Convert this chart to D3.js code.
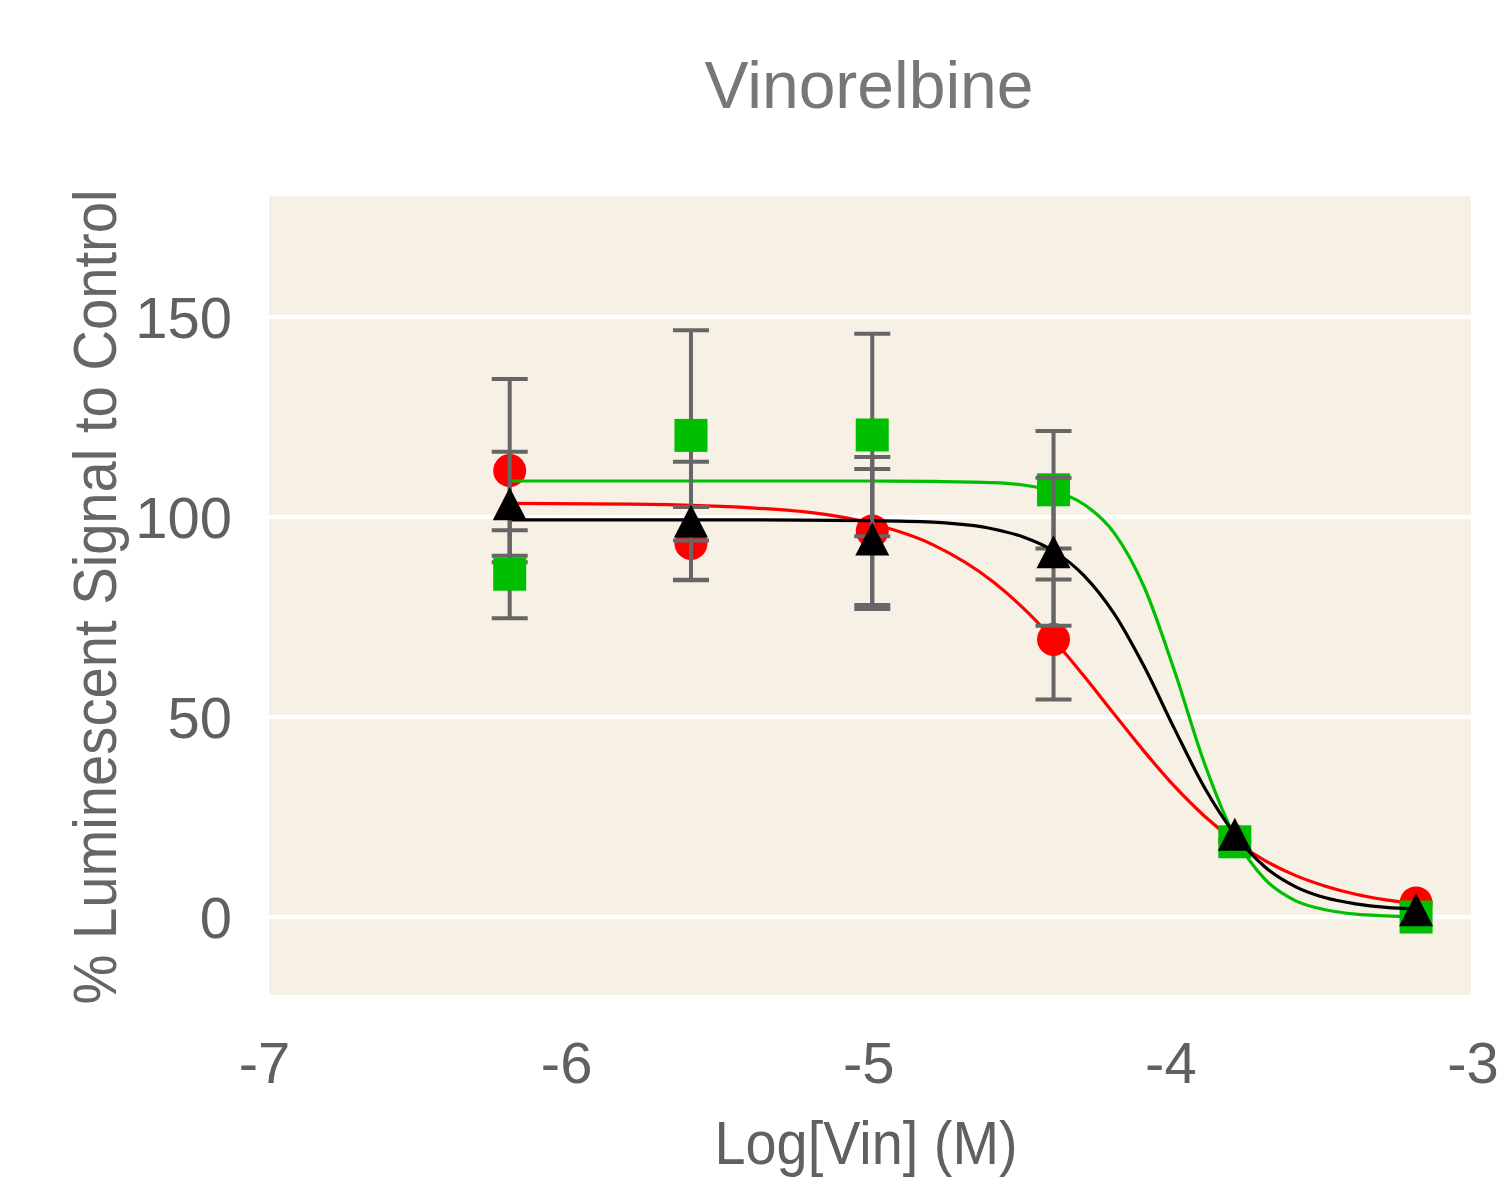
<!DOCTYPE html>
<html lang="en">
  <head>
    <meta charset="UTF-8" />
    <title>Vinorelbine</title>
    <script src="https://d3js.org/d3.v7.min.js"></script>
    <style>
      body {
        margin: 0px;
        overflow: hidden;
        background: #ffffff;
      }
      text {
        font-family: "Liberation Sans", Arial, sans-serif;
      }
    </style>
  </head>
  <body>
    <svg width="1508" height="1180"></svg>
    <script>
      // measured points (log molar concentration)
      var doses = [-6.2, -5.6, -5.0, -4.4, -3.8, -3.2];
      var redMean = [111.6, 93.4, 96.5, 69.4, 19.0, 3.5];
      var redErr = [22.9, 9.1, 18.5, 15.0, 0, 0];
      var greenMean = [85.7, 120.4, 120.5, 106.8, 18.8, 0.0];
      var greenErr = [11.0, 26.3, 25.3, 14.7, 0, 0];
      var blackMean = [103.3, 99.0, 94.5, 91.3, 20.7, 1.8];
      var blackErr = [13.0, 14.8, 17.5, 18.5, 0, 0];

      // fitted curves
      var curveX = [-6.2, -5.8, -5.4, -5.0, -4.8, -4.6, -4.5, -4.4, -4.3, -4.2,
                    -4.1, -4.0, -3.9, -3.8, -3.7, -3.6, -3.5, -3.4, -3.3, -3.2];
      var redFit = [103.4, 103.2, 102.3, 98.3, 93.1, 83.8, 77.2, 69.3, 60.3, 50.8,
                    41.4, 32.7, 25.2, 19.0, 14.1, 10.4, 7.7, 5.7, 4.3, 3.3];
      var greenFit = [109.0, 109.0, 109.0, 109.0, 108.9, 108.6, 108.0, 106.5, 103.2, 96.1,
                      82.5, 61.6, 38.3, 20.1, 9.4, 4.1, 1.8, 0.7, 0.3, 0.1];
      var blackFit = [99.3, 99.3, 99.3, 99.1, 98.7, 97.0, 95.0, 91.5, 85.4, 75.9,
                      62.6, 47.1, 32.3, 20.7, 12.5, 7.6, 4.8, 3.3, 2.4, 2.0];

      var xTicks = [-7, -6, -5, -4, -3];
      var yTicks = [0, 50, 100, 150];

      var svg = d3.select("svg");
      var plot = { left: 269, right: 1471, top: 196, bottom: 995 };

      var x = d3.scaleLinear().domain([-7, -3]).range([268, 1476.5]);
      var y = d3.scaleLinear().domain([-20, 180]).range([997, 197]);

      svg
        .append("rect")
        .attr("x", plot.left)
        .attr("y", plot.top)
        .attr("width", plot.right - plot.left)
        .attr("height", plot.bottom - plot.top)
        .attr("fill", "#f6f0e5");

      // horizontal grid
      svg
        .append("g")
        .selectAll("line")
        .data(yTicks)
        .enter()
        .append("line")
        .attr("x1", plot.left)
        .attr("x2", plot.right)
        .attr("y1", function (d) { return y(d); })
        .attr("y2", function (d) { return y(d); })
        .attr("stroke", "#ffffff")
        .attr("stroke-width", 4);

      // tick labels
      svg
        .append("g")
        .selectAll("text")
        .data(yTicks)
        .enter()
        .append("text")
        .attr("x", 232)
        .attr("y", function (d) { return y(d); })
        .attr("dy", "0.36em")
        .attr("text-anchor", "end")
        .attr("font-size", 58)
        .attr("fill", "#606060")
        .text(function (d) { return d; });

      svg
        .append("g")
        .selectAll("text")
        .data(xTicks)
        .enter()
        .append("text")
        .attr("x", function (d) { return x(d) - 3.5; })
        .attr("y", 1083)
        .attr("text-anchor", "middle")
        .attr("font-size", 58)
        .attr("fill", "#606060")
        .text(function (d) { return d; });

      svg
        .append("text")
        .attr("x", 869)
        .attr("y", 108)
        .attr("text-anchor", "middle")
        .attr("font-size", 66)
        .attr("fill", "#77777a")
        .text("Vinorelbine");

      // moved up a little so the descenders stay inside the page
      svg
        .append("text")
        .attr("x", 866)
        .attr("y", 1164)
        .attr("text-anchor", "middle")
        .attr("font-size", 62)
        .attr("textLength", 303)
        .attr("lengthAdjust", "spacingAndGlyphs")
        .attr("fill", "#606060")
        .text("Log[Vin] (M)");

      svg
        .append("text")
        .attr("transform", "translate(116, 597) rotate(-90)")
        .attr("text-anchor", "middle")
        .attr("font-size", 61)
        .attr("textLength", 815)
        .attr("lengthAdjust", "spacingAndGlyphs")
        .attr("fill", "#666666")
        .text("% Luminescent Signal to Control");

      var line = d3
        .line()
        .x(function (d) { return x(d[0]); })
        .y(function (d) { return y(d[1]); })
        .curve(d3.curveMonotoneX);

      var series = [
        { mean: redMean, err: redErr, fit: redFit, color: "#ff0000", shape: "circle" },
        { mean: greenMean, err: greenErr, fit: greenFit, color: "#00bf00", shape: "square" },
        { mean: blackMean, err: blackErr, fit: blackFit, color: "#000000", shape: "triangle" }
      ];

      series.forEach(function (s) {
        var g = svg.append("g");
        var pts = doses.map(function (d, i) {
          return { x: d, y: s.mean[i], e: s.err[i] };
        });

        g.append("path")
          .datum(curveX.map(function (d, i) { return [d, s.fit[i]]; }))
          .attr("d", line)
          .attr("fill", "none")
          .attr("stroke", s.color)
          .attr("stroke-width", 3.2);

        // bars hidden behind the marker are not drawn
        var bars = g
          .selectAll(".bar")
          .data(pts.filter(function (d) { return d.e > 0; }))
          .enter()
          .append("g");
        bars
          .append("line")
          .attr("x1", function (d) { return x(d.x); })
          .attr("x2", function (d) { return x(d.x); })
          .attr("y1", function (d) { return y(d.y + d.e); })
          .attr("y2", function (d) { return y(d.y - d.e); });
        bars
          .append("line")
          .attr("x1", function (d) { return x(d.x) - 18; })
          .attr("x2", function (d) { return x(d.x) + 18; })
          .attr("y1", function (d) { return y(d.y + d.e); })
          .attr("y2", function (d) { return y(d.y + d.e); });
        bars
          .append("line")
          .attr("x1", function (d) { return x(d.x) - 18; })
          .attr("x2", function (d) { return x(d.x) + 18; })
          .attr("y1", function (d) { return y(d.y - d.e); })
          .attr("y2", function (d) { return y(d.y - d.e); });
        bars.selectAll("line").attr("stroke", "#666666").attr("stroke-width", 4);

        var marks = g.selectAll(".mark").data(pts).enter();
        if (s.shape === "circle") {
          marks
            .append("circle")
            .attr("cx", function (d) { return x(d.x); })
            .attr("cy", function (d) { return y(d.y); })
            .attr("r", 16.5)
            .attr("fill", s.color);
        } else if (s.shape === "square") {
          marks
            .append("rect")
            .attr("x", function (d) { return x(d.x) - 16.5; })
            .attr("y", function (d) { return y(d.y) - 16.5; })
            .attr("width", 33)
            .attr("height", 33)
            .attr("fill", s.color);
        } else {
          marks
            .append("path")
            .attr("transform", function (d) {
              return "translate(" + x(d.x) + "," + y(d.y) + ")";
            })
            .attr("d", "M0,-16.5L17,16.5L-17,16.5Z")
            .attr("fill", s.color);
        }
      });
    </script>
  </body>
</html>
